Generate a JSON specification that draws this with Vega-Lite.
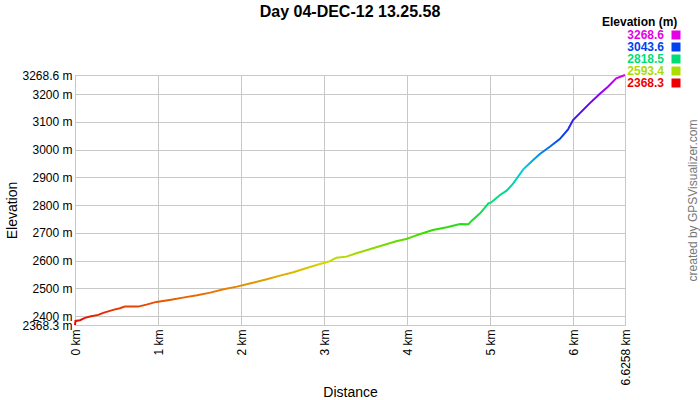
{
  "$schema": "https://vega.github.io/schema/vega-lite/v6.json",
  "width": 550,
  "height": 250,
  "autosize": {"type": "none"},
  "padding": {"left": 75, "top": 75, "right": 75, "bottom": 75},
  "background": "white",
  "title": {"text": "Day 04-DEC-12 13.25.58", "fontSize": 16, "fontWeight": "bold", "font": "Liberation Sans", "color": "black", "anchor": "middle", "baseline": "middle", "offset": -11},
  "config": {
    "font": "Liberation Sans",
    "view": {"stroke": "#c8c8c8"},
    "axis": {"gridColor": "#c8c8c8", "domainColor": "#c8c8c8", "labelColor": "black", "labelFontSize": 12, "labelFont": "Liberation Sans", "titleFont": "Liberation Sans", "titleColor": "black", "titleFontWeight": "normal", "titleFontSize": 14, "ticks": false}
  },
  "datasets": {
    "profile": [
      {"km": 0, "ele": 2368.3},
      {"km": 0.006, "ele": 2383},
      {"km": 0.06, "ele": 2385.6},
      {"km": 0.12, "ele": 2393.9},
      {"km": 0.18, "ele": 2398.6},
      {"km": 0.28, "ele": 2404.7},
      {"km": 0.34, "ele": 2411.9},
      {"km": 0.46, "ele": 2422.7},
      {"km": 0.54, "ele": 2428.8},
      {"km": 0.6, "ele": 2434.5},
      {"km": 0.76, "ele": 2434.5},
      {"km": 0.86, "ele": 2441.7},
      {"km": 0.98, "ele": 2451.5},
      {"km": 1.14, "ele": 2458.7},
      {"km": 1.3, "ele": 2466.9},
      {"km": 1.47, "ele": 2475.6},
      {"km": 1.63, "ele": 2484.9},
      {"km": 1.79, "ele": 2497.2},
      {"km": 1.95, "ele": 2506.5},
      {"km": 2.13, "ele": 2519.5},
      {"km": 2.31, "ele": 2533.1},
      {"km": 2.47, "ele": 2546.1},
      {"km": 2.63, "ele": 2558.3},
      {"km": 2.79, "ele": 2573.8},
      {"km": 2.95, "ele": 2588.2},
      {"km": 3.07, "ele": 2597.9},
      {"km": 3.15, "ele": 2610.9},
      {"km": 3.27, "ele": 2614.5},
      {"km": 3.39, "ele": 2626.7},
      {"km": 3.59, "ele": 2644.7},
      {"km": 3.75, "ele": 2659.1},
      {"km": 3.87, "ele": 2669.9},
      {"km": 3.99, "ele": 2678.2},
      {"km": 4.07, "ele": 2686.4},
      {"km": 4.15, "ele": 2695.1},
      {"km": 4.31, "ele": 2710.5},
      {"km": 4.48, "ele": 2720.3},
      {"km": 4.64, "ele": 2732.1},
      {"km": 4.74, "ele": 2731.5},
      {"km": 4.78, "ele": 2744.0},
      {"km": 4.88, "ele": 2770.6},
      {"km": 4.98, "ele": 2806.6},
      {"km": 5.01, "ele": 2808.8},
      {"km": 5.12, "ele": 2836.5},
      {"km": 5.2, "ele": 2852.0},
      {"km": 5.28, "ele": 2878.6},
      {"km": 5.4, "ele": 2929.0},
      {"km": 5.52, "ele": 2962.4},
      {"km": 5.6, "ele": 2984.0},
      {"km": 5.72, "ele": 3010.3},
      {"km": 5.84, "ele": 3038.0},
      {"km": 5.94, "ele": 3072.9},
      {"km": 6.0, "ele": 3106.4},
      {"km": 6.08, "ele": 3130.5},
      {"km": 6.2, "ele": 3166.5},
      {"km": 6.32, "ele": 3200.0},
      {"km": 6.42, "ele": 3226.2},
      {"km": 6.52, "ele": 3256.4},
      {"km": 6.6258, "ele": 3268.6}
    ],
    "legend": [
      {"lv": "3268.6"},
      {"lv": "3043.6"},
      {"lv": "2818.5"},
      {"lv": "2593.4"},
      {"lv": "2368.3"}
    ]
  },
  "layer": [
    {
      "data": {"name": "profile"},
      "mark": {
        "type": "line",
        "strokeWidth": 2,
        "color": {
          "gradient": "linear",
          "x1": 0, "y1": 1, "x2": 0, "y2": 0,
          "stops": [
            {"offset": 0, "color": "#e60000"},
            {"offset": 0.125, "color": "#e87000"},
            {"offset": 0.25, "color": "#d4d800"},
            {"offset": 0.375, "color": "#33dd00"},
            {"offset": 0.5, "color": "#00dd77"},
            {"offset": 0.625, "color": "#00ccdd"},
            {"offset": 0.75, "color": "#0044ee"},
            {"offset": 0.875, "color": "#6000ee"},
            {"offset": 1, "color": "#d800ee"}
          ]
        }
      },
      "encoding": {
        "x": {
          "field": "km", "type": "quantitative",
          "scale": {"domain": [0, 6.6258], "nice": false, "zero": false},
          "axis": {"values": [0, 1, 2, 3, 4, 5, 6, 6.6258], "labelExpr": "datum.value + ' km'", "labelAngle": 270, "labelFlush": false, "labelOverlap": false, "labelBound": false, "labelPadding": 4, "title": "Distance", "titleY": 67, "titleBaseline": "middle", "grid": true}
        },
        "y": {
          "field": "ele", "type": "quantitative",
          "scale": {"domain": [2368.3, 3268.6], "nice": false, "zero": false},
          "axis": {"values": [2368.3, 2400, 2500, 2600, 2700, 2800, 2900, 3000, 3100, 3200, 3268.6], "labelExpr": "datum.value + ' m'", "labelFlush": false, "labelOverlap": false, "labelBound": false, "labelPadding": 3, "title": "Elevation", "titleX": -63, "titleY": 135, "titleAlign": "center", "titleBaseline": "middle", "grid": true}
        }
      }
    },
    {
      "data": {"name": "legend"},
      "mark": {"type": "square", "opacity": 0, "size": 81},
      "encoding": {
        "y": {
          "datum": 2400, "type": "quantitative",
          "axis": {"orient": "right", "title": "created by GPSVisualizer.com", "labels": false, "grid": false, "domain": false, "ticks": false, "titleAngle": 270, "titleX": 67, "titleY": 125, "titleAlign": "center", "titleBaseline": "middle", "titleFontSize": 12, "titleColor": "#777777"}
        },
        "color": {
          "field": "lv", "type": "nominal",
          "scale": {"domain": ["3268.6", "3043.6", "2818.5", "2593.4", "2368.3"], "range": ["#e600e6", "#0040ee", "#00dd77", "#aadd00", "#ee0000"]},
          "legend": {
            "title": "Elevation (m)", "orient": "none", "legendX": 527, "legendY": -58, "padding": 0,
            "symbolType": "square", "symbolSize": 81, "symbolOpacity": 1, "symbolStrokeWidth": 0,
            "labelFontSize": 12, "labelFontWeight": "bold", "labelFont": "Liberation Sans",
            "titleFontSize": 12, "titleFontWeight": "bold", "titleColor": "black", "titleFont": "Liberation Sans",
            "rowPadding": 0, "titlePadding": 0,
            "encode": {
              "symbols": {"update": {"x": {"value": 74}}},
              "labels": {"update": {"x": {"value": 62}, "align": {"value": "right"}, "fill": {"scale": "color", "field": "value"}}}
            }
          }
        }
      }
    }
  ],
  "resolve": {"axis": {"y": "independent"}}
}
